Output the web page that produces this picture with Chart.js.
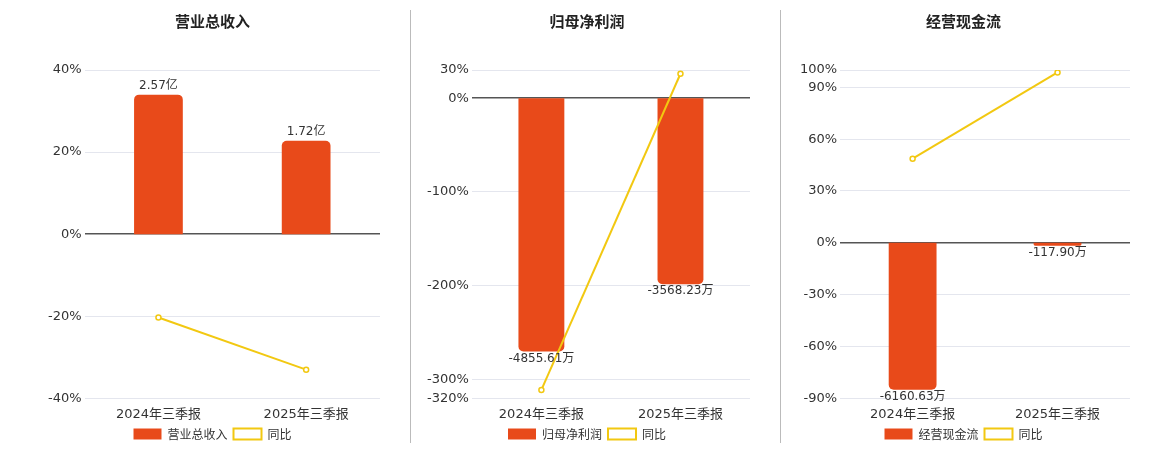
<!DOCTYPE html><html><head><meta charset="utf-8">
<script src="https://cdn.jsdelivr.net/npm/chart.js@4/dist/chart.umd.min.js"></script>
<style>body{margin:0;background:#fff;font-family:"Noto Sans CJK SC",sans-serif}
.p{position:absolute;top:0;height:450px}.sep{position:absolute;top:10px;width:1px;height:433px;background:#bbb}</style></head><body>
<div class="p" style="left:0;width:405px"><canvas id="c1"></canvas></div>
<div class="sep" style="left:410px"></div>
<div class="p" style="left:412px;width:365px"><canvas id="c2"></canvas></div>
<div class="sep" style="left:780px"></div>
<div class="p" style="left:782px;width:370px"><canvas id="c3"></canvas></div>
<script>
const categories=["2024年三季报","2025年三季报"];
const titles=["营业总收入","归母净利润","经营现金流"];
const rev=[2.57,1.72], revLabels=["2.57亿","1.72亿"], revYoy=[-20.3,-33.0];
const np=[-4855.61,-3568.23], npLabels=["-4855.61万","-3568.23万"], npYoy=[-311,26];
const cf=[-6160.63,-117.90], cfLabels=["-6160.63万","-117.90万"], cfYoy=[48.7,98.6];
const ticks1=[-40,-20,0,20,40], ticks2=[-320,-300,-200,-100,0,30], ticks3=[-90,-60,-30,0,30,60,90,100];
// bar-axis scale: percent of the left axis that the largest bar spans
const barSpan=[34,270,85];
const F='"DejaVu Sans",sans-serif';
const lbl={id:'lbl',afterDatasetsDraw(c){const ctx=c.ctx;const m=c.getDatasetMeta(0);const L=c.options.plugins.lbl.labels;
ctx.save();ctx.font='12px "DejaVu Sans","Noto Sans CJK SC",sans-serif';ctx.fillStyle='#333';ctx.textAlign='center';
m.data.forEach((b,i)=>{const v=c.data.datasets[0].data[i];if(v>=0){ctx.textBaseline='bottom';ctx.fillText(L[i],b.x,b.y-3);}else{ctx.textBaseline='top';ctx.fillText(L[i],b.x,b.y+1);}});ctx.restore();}};
function mk(id,t,bars,labels,yoy,tk,span,pl,pr){
const mx=Math.max(...bars.map(Math.abs));const k=span/mx;
const mn=Math.min(...tk),ma=Math.max(...tk);
new Chart(document.getElementById(id),{type:'bar',plugins:[lbl],data:{labels:categories,datasets:[
{type:'bar',label:t,data:bars,yAxisID:'y2',backgroundColor:'#E84A1A',barPercentage:0.33,categoryPercentage:1,borderRadius:5,borderSkipped:'start',order:2},
{type:'line',label:'同比',data:yoy,yAxisID:'y',borderColor:'#F2C811',backgroundColor:'#fff',borderWidth:2,pointRadius:2.5,pointBorderWidth:1.5,order:1}]},
options:{responsive:false,animation:false,layout:{padding:{left:pl,right:pr,top:0,bottom:0}},
plugins:{title:{display:true,text:t,font:{size:15,weight:'bold',family:'"Noto Sans CJK SC"'},color:'#222',padding:{top:12,bottom:40}},
legend:{position:'bottom',labels:{sort:(a,b)=>a.datasetIndex-b.datasetIndex,boxWidth:28,boxHeight:11,padding:6,font:{size:12,family:'"Noto Sans CJK SC"'},color:'#333'}},tooltip:{enabled:false},lbl:{labels}},
scales:{x:{grid:{display:false},border:{display:false},ticks:{font:{size:13,family:'"DejaVu Sans","Noto Sans CJK SC"'},color:'#333',padding:0}},
y:{min:mn,max:ma,afterBuildTicks:a=>{a.ticks=tk.map(v=>({value:v}))},ticks:{callback:v=>v+'%',font:{size:13,family:F},color:'#333',autoSkip:false},
grid:{color:c=>c.tick&&c.tick.value===0?'#555':'#e4e6ee',lineWidth:c=>c.tick&&c.tick.value===0?1.5:1,drawTicks:false},border:{display:false}},
y2:{display:false,min:mn/k,max:ma/k}}}});}
function sz(id,w){const c=document.getElementById(id);c.width=w;c.height=450;}
sz('c1',405);sz('c2',365);sz('c3',370);
mk('c1',titles[0],rev,revLabels,revYoy,ticks1,barSpan[0],45,25);
mk('c2',titles[1],np,npLabels,npYoy,ticks2,barSpan[1],12,27);
mk('c3',titles[2],cf,cfLabels,cfYoy,ticks3,barSpan[2],15,22);
</script></body></html>
